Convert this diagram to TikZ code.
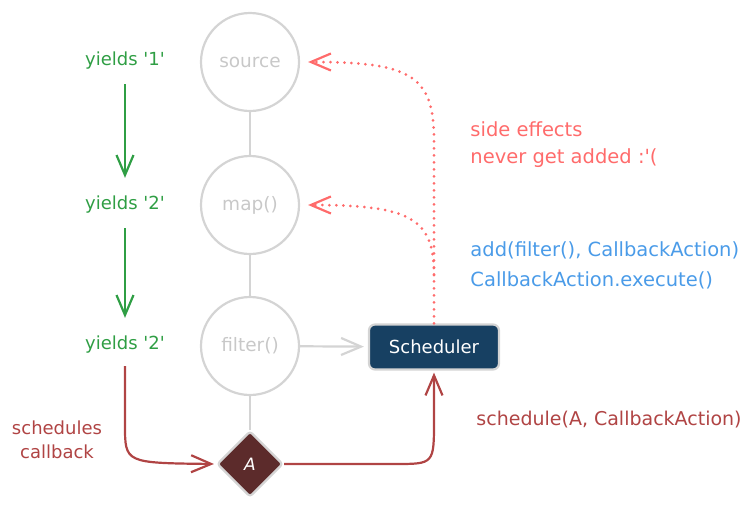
\documentclass[tikz,border=0pt]{standalone}
\usepackage{fontspec}
\setmainfont{DejaVu Sans}
\usetikzlibrary{arrows.meta,shapes.geometric}

\definecolor{opline}{HTML}{D4D4D4}
\definecolor{optext}{HTML}{C8C8C8}
\definecolor{yieldgreen}{HTML}{2F9E44}
\definecolor{schedred}{HTML}{B04444}
\definecolor{effectred}{HTML}{FF6B6B}
\definecolor{callblue}{HTML}{4A9BE8}
\definecolor{schednavy}{HTML}{174062}
\definecolor{actbrown}{HTML}{5C2B2B}

\tikzset{
  opnode/.style={circle, draw=opline, line width=2.2pt, minimum size=98pt,
    text=optext, font=\fontsize{18.5}{20}\selectfont},
  tip/.style={-{Straight Barb[length=20pt, width=17pt, line width=2.2pt]}},
  dots/.style={line width=3pt, line cap=round, dash pattern=on 0pt off 7pt},
}

\newcommand{\sq}{\textquotesingle}

\begin{document}
\begin{tikzpicture}[x=1pt, y=-1pt, line width=2.2pt]

\useasboundingbox (0,0) rectangle (755,509);

\def\xop{250} % operator column
\def\xy{125} % yields column
\def\xs{434} % scheduler column

% operators
\node[opnode] (source) at (\xop, 62) {source};
\node[opnode] (map) at (\xop, 205) {map()};
\node[opnode] (filter) at (\xop, 346) {filter()};
\node[diamond, draw=opline, fill=actbrown, text=white, line width=2.2pt,
  minimum width=66pt, minimum height=66pt, inner sep=0pt, rounded corners=3pt,
  font=\fontsize{17}{18}\itshape] (actA) at (\xop, 464) {A};

\draw[opline] (source) -- (map);
\draw[opline] (map) -- (filter);
\draw[opline] (filter) -- (actA);

% scheduler
\node[draw=opline, fill=schednavy, text=white, rounded corners=6pt,
  minimum width=130pt, minimum height=45pt,
  font=\fontsize{18}{20}\selectfont] (sched) at (\xs, 347) {Scheduler};

\draw[opline, tip, shorten >=4pt] (filter) -- (sched);

% yields
\begin{scope}[font=\fontsize{18}{20}\selectfont, text=yieldgreen]
\node (y1) at (\xy, 61) {yields \sq1\sq};
\node (y2) at (\xy, 205) {yields \sq2\sq};
\node (y3) at (\xy, 345) {yields \sq2\sq};
\end{scope}

\draw[yieldgreen, tip, shorten <=10pt, shorten >=14pt] (y1) -- (y2);
\draw[yieldgreen, tip, shorten <=10pt, shorten >=14pt] (y2) -- (y3);

% schedules callback
\node[schedred, align=center, font=\fontsize{18}{24}\selectfont] (schedtxt)
  at (57, 440) {schedules\\callback};

\coordinate (bendA) at (\xy, 425);
\coordinate (bendS) at (\xs, 420);
\draw[schedred, tip, shorten <=8pt, shorten >=2pt]
  (y3.south) -- (bendA) .. controls (\xy, 463) .. (actA.west);
\draw[schedred, tip, shorten >=2pt]
  (actA.east) -- (395, 464) .. controls (\xs, 464) .. (bendS) -- (sched.south);

\node[schedred, anchor=west, font=\fontsize{19}{20}\selectfont] (schedcall)
  at (472, 420) {schedule(A, CallbackAction)};

% side effects
\coordinate (fork) at (\xs, 275);
\draw[effectred, dots, tip, shorten >=8pt]
  (sched.north) -- (\xs, 140) .. controls (\xs, 75) and (410, 62) .. (source.east);
\draw[effectred, dots, tip, shorten >=8pt]
  (fork) .. controls (\xs, 218) and (410, 205) .. (map.east);

\node[effectred, anchor=west, align=left, font=\fontsize{19.5}{27}\selectfont]
  (effects) at (466, 145) {side effects\\never get added :\sq(};

\node[callblue, anchor=west, align=left, font=\fontsize{19.5}{30}\selectfont]
  (calls) at (466, 265) {add(filter(), CallbackAction)\\CallbackAction.execute()};

\end{tikzpicture}
\end{document}
